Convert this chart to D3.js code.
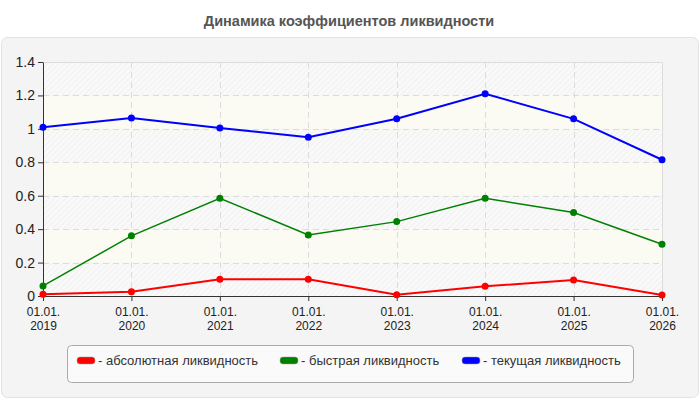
<!DOCTYPE html>
<html>
<head>
<meta charset="utf-8">
<script src="https://cdn.jsdelivr.net/npm/d3@7"></script>
<style>
    body { margin: 0; background: #fff; }
    svg { display: block; font-family: "Liberation Sans", Arial, sans-serif; }
</style>
</head>
<body>
<figure id="chart" style="margin:0"></figure>
<script>
// data
const years = ["2019", "2020", "2021", "2022", "2023", "2024", "2025", "2026"];
const absolute = [0.01, 0.025, 0.10, 0.10, 0.007, 0.058, 0.095, 0.006];
const quick = [0.06, 0.36, 0.585, 0.365, 0.445, 0.585, 0.50, 0.31];
const current = [1.01, 1.065, 1.005, 0.95, 1.06, 1.21, 1.06, 0.815];
const yTicks = [0, 0.2, 0.4, 0.6, 0.8, 1, 1.2, 1.4];
const seriesNames = ["- абсолютная ликвидность", "- быстрая ликвидность", "- текущая ликвидность"];
const seriesColors = ["#ff0000", "#008000", "#0000ff"];

let dimensions = {
    width: 700,
    height: 400,
    margin: { top: 62, right: 38, bottom: 104, left: 43 }
};
dimensions.boundedWidth = dimensions.width - dimensions.margin.left - dimensions.margin.right;
dimensions.boundedHeight = dimensions.height - dimensions.margin.top - dimensions.margin.bottom;

const svg = d3.select("figure#chart")
    .append("svg")
    .attr("width", dimensions.width)
    .attr("height", dimensions.height);

// hatch pattern for the striped bands
const defs = svg.append("defs");
const pat = defs.append("pattern")
    .attr("id", "hatch")
    .attr("patternUnits", "userSpaceOnUse")
    .attr("width", 4).attr("height", 4)
    .attr("patternTransform", "rotate(45)");
pat.append("rect").attr("width", 4).attr("height", 4).attr("fill", "#f9f9f9");
pat.append("line").attr("x1", 0).attr("y1", 0).attr("x2", 0).attr("y2", 4)
    .attr("stroke", "#ececec").attr("stroke-width", 1.2);

// title
svg.append("text")
    .attr("x", 349).attr("y", 26)
    .attr("text-anchor", "middle")
    .attr("font-size", 14.5).attr("font-weight", "bold")
    .attr("fill", "#555")
    .text("Динамика коэффициентов ликвидности");

// outer panel
svg.append("rect")
    .attr("x", 1.5).attr("y", 37.5)
    .attr("width", 697).attr("height", 360)
    .attr("rx", 6)
    .attr("fill", "#f4f4f4").attr("stroke", "#e2e2e2");

const g = svg.append("g")
    .attr("transform", `translate(${dimensions.margin.left},${dimensions.margin.top})`);

const xScale = d3.scalePoint()
    .domain(years)
    .range([0, dimensions.boundedWidth]);

const yScale = d3.scaleLinear()
    .domain([0, 1.4])
    .range([dimensions.boundedHeight, 0]);

// alternating bands
const bands = d3.range(yTicks.length - 1);
g.selectAll("rect.band")
    .data(bands)
    .enter().append("rect")
    .attr("class", "band")
    .attr("x", 0)
    .attr("width", dimensions.boundedWidth)
    .attr("y", i => yScale(yTicks[i + 1]))
    .attr("height", i => yScale(yTicks[i]) - yScale(yTicks[i + 1]))
    .attr("fill", i => i % 2 === 0 ? "url(#hatch)" : "#fbfbf3");

// frame on top and right
g.append("path")
    .attr("d", `M0,0.5H${dimensions.boundedWidth + 0.5}V${dimensions.boundedHeight}`)
    .attr("fill", "none").attr("stroke", "#dcdcdc");

// dashed grid
g.selectAll("line.hgrid")
    .data(yTicks.slice(1, -1))
    .enter().append("line")
    .attr("x1", 0).attr("x2", dimensions.boundedWidth)
    .attr("y1", d => Math.round(yScale(d)) + 0.5)
    .attr("y2", d => Math.round(yScale(d)) + 0.5)
    .attr("stroke", "#dcdcdc").attr("stroke-dasharray", "6,4");

g.selectAll("line.vgrid")
    .data(years.slice(1, -1))
    .enter().append("line")
    .attr("y1", 0).attr("y2", dimensions.boundedHeight)
    .attr("x1", d => Math.round(xScale(d)) + 0.5)
    .attr("x2", d => Math.round(xScale(d)) + 0.5)
    .attr("stroke", "#dcdcdc").attr("stroke-dasharray", "6,4");

// axes
const yAxis = g.append("g")
    .call(d3.axisLeft(yScale).tickValues(yTicks).tickFormat(d => d3.format("")(+d.toFixed(1))).tickSize(5).tickSizeOuter(0));
yAxis.select(".domain").attr("stroke", "#333");
yAxis.selectAll(".tick line").attr("stroke", "#333");
yAxis.selectAll("text").attr("font-size", 14).attr("fill", "#222").attr("font-family", "Liberation Sans, Arial, sans-serif").attr("x", -8);

const xAxis = g.append("g")
    .attr("transform", `translate(0,${dimensions.boundedHeight})`)
    .call(d3.axisBottom(xScale).tickSize(5).tickSizeOuter(0).tickFormat(""));
xAxis.select(".domain").attr("stroke", "#333");
xAxis.selectAll(".tick line").attr("stroke", "#333");
xAxis.selectAll(".tick").append("text")
    .attr("text-anchor", "middle")
    .attr("font-size", 12).attr("fill", "#222")
    .attr("font-family", "Liberation Sans, Arial, sans-serif")
    .selectAll("tspan")
    .data(d => ["01.01.", d])
    .enter().append("tspan")
    .attr("x", 0)
    .attr("y", (d, i) => 20 + i * 14)
    .text(d => d);

// lines
const allSeries = [absolute, quick, current];
const line = d3.line()
    .x((d, i) => xScale(years[i]))
    .y(d => yScale(d));
const widths = [2, 1.5, 2];
const radii = [3.5, 3.5, 3.5];

allSeries.forEach((vals, k) => {
    g.append("path")
        .datum(vals)
        .attr("fill", "none")
        .attr("stroke", seriesColors[k])
        .attr("stroke-width", widths[k])
        .attr("d", line);
    g.selectAll(`circle.s${k}`)
        .data(vals)
        .enter().append("circle")
        .attr("cx", (d, i) => xScale(years[i]))
        .attr("cy", d => yScale(d))
        .attr("r", radii[k])
        .attr("fill", seriesColors[k]);
});

// legend
svg.append("rect")
    .attr("x", 67.5).attr("y", 345.5)
    .attr("width", 566).attr("height", 37)
    .attr("rx", 4)
    .attr("fill", "#fafafa").attr("stroke", "#aaa");

const legendX = [77, 280, 462];
const legend = svg.selectAll("g.legend")
    .data(seriesNames)
    .enter().append("g")
    .attr("transform", (d, i) => `translate(${legendX[i]},357)`);
legend.append("rect")
    .attr("width", 18).attr("height", 7)
    .attr("rx", 3)
    .attr("fill", (d, i) => seriesColors[i])
    .attr("stroke", "#999").attr("stroke-width", 0.5);
legend.append("text")
    .attr("x", 21).attr("y", 8)
    .attr("font-size", 13).attr("fill", "#333")
    .text(d => d);
</script>
</body>
</html>
